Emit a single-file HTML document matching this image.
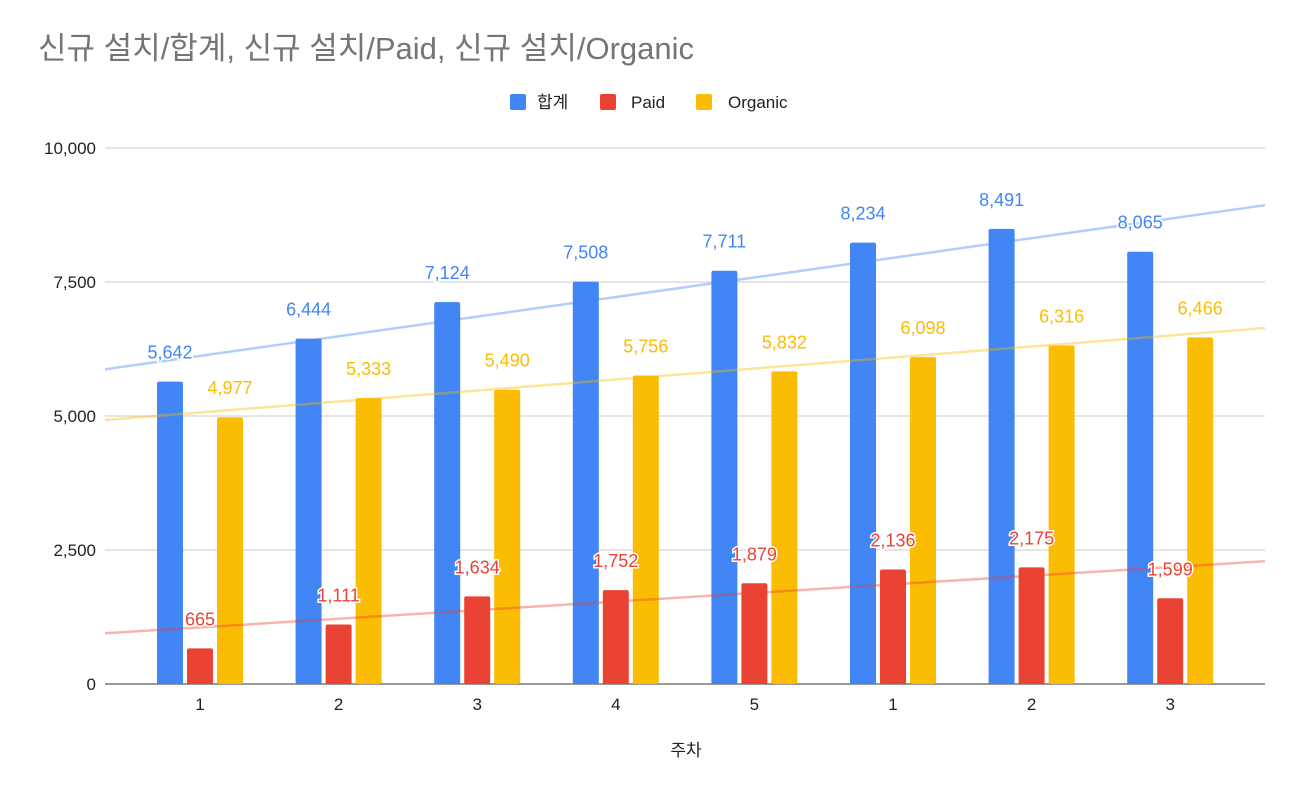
<!DOCTYPE html>
<html><head><meta charset="utf-8">
<style>
body{margin:0;background:#fff;}
svg text{font-family:"Liberation Sans","Noto Sans CJK KR",sans-serif;}
</style></head>
<body>
<svg id="chart" width="1298" height="794" xmlns="http://www.w3.org/2000/svg">
<rect width="1298" height="794" fill="#fff"/>
<text x="38" y="59" font-size="31" fill="#757575">신규 설치/합계, 신규 설치/Paid, 신규 설치/Organic</text>
<g>
<rect x="510" y="94" width="16" height="16" rx="2" fill="#4285f4"/>
<text x="537" y="108" font-size="17" fill="#222">합계</text>
<rect x="600" y="94" width="16" height="16" rx="2" fill="#ea4335"/>
<text x="631" y="108" font-size="17" fill="#222">Paid</text>
<rect x="696" y="94" width="16" height="16" rx="2" fill="#fbbc04"/>
<text x="728" y="108" font-size="17" fill="#222">Organic</text>
</g>
<g id="grid"></g>
<g id="bars"></g>
<g id="trends"></g>
<g id="labels"></g>
<text x="686" y="756" font-size="17" text-anchor="middle" fill="#222">주차</text>
</svg>
<script>
const categories=["1","2","3","4","5","1","2","3"];
const totalValues=[5642,6444,7124,7508,7711,8234,8491,8065];
const paidValues=[665,1111,1634,1752,1879,2136,2175,1599];
const organicValues=[4977,5333,5490,5756,5832,6098,6316,6466];
const yTicks=[0,2500,5000,7500,10000];

const NS="http://www.w3.org/2000/svg";
const X0=105,X1=1265,Y0=684,YTOP=148,YMAX=10000;
const step=138.6, first=200;
const yS=v=>Y0-(Y0-YTOP)*v/YMAX;
const xS=i=>first+i*step;
function mk(tag,attrs,parent,txt){const e=document.createElementNS(NS,tag);for(const k in attrs)e.setAttribute(k,attrs[k]);if(txt!==undefined)e.textContent=txt;parent.appendChild(e);return e;}
const grid=document.getElementById('grid'),bars=document.getElementById('bars'),trends=document.getElementById('trends'),labels=document.getElementById('labels');
yTicks.forEach(t=>{
  const l=mk('line',{x1:X0,x2:X1,y1:yS(t),y2:yS(t),stroke:t===0?'#333':'#ccc','stroke-width':1},grid);
  
  
  const tx=mk('text',{x:96,y:yS(t)+6,'font-size':17,'text-anchor':'end',fill:'#222'},grid,t.toLocaleString('en-US'));
  
  
});
categories.forEach((c,i)=>{
  const tx=mk('text',{x:xS(i),y:710,'font-size':17,'text-anchor':'middle',fill:'#222'},grid,c);
  
  
});
const series=[
 {vals:totalValues,color:'#4285f4',off:-30,name:'total',trend:'#4285f4'},
 {vals:paidValues,color:'#ea4335',off:0,name:'paid',trend:'#ea4335'},
 {vals:organicValues,color:'#fbbc04',off:30,name:'organic',trend:'#fbbc04'}];
const BW=26;
series.forEach(s=>{
  s.vals.forEach((v,i)=>{
    const cx=xS(i)+s.off;
    const r=mk('rect',{x:cx-BW/2,y:yS(v),width:BW,height:Y0-yS(v),fill:s.color,rx:2},bars);
    
    
    const t=mk('text',{x:cx,y:yS(v)-23,'font-size':18,'text-anchor':'middle',fill:s.color,stroke:'#fff','stroke-width':3,'paint-order':'stroke'},labels,v.toLocaleString('en-US'));
    
    
  });
  const n=s.vals.length,mx=(n-1)/2,my=s.vals.reduce((a,b)=>a+b,0)/n;
  let sxy=0,sxx=0;s.vals.forEach((v,i)=>{sxy+=(i-mx)*(v-my);sxx+=(i-mx)*(i-mx);});
  const sl=sxy/sxx;
  const iA=(X0-first)/step,iB=(X1-first)/step;
  const ln=mk('line',{x1:X0,y1:yS(my+sl*(iA-mx)),x2:X1,y2:yS(my+sl*(iB-mx)),stroke:s.trend,'stroke-width':2.5,'stroke-opacity':0.4},trends);
  
  
});
</script>
</body></html>
